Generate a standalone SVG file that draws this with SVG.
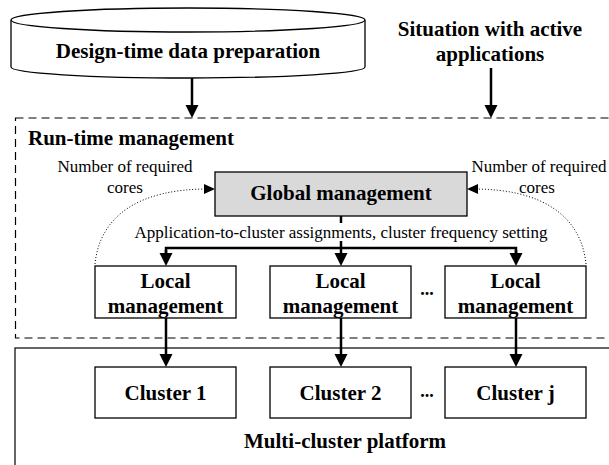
<svg xmlns="http://www.w3.org/2000/svg" width="609" height="465" viewBox="0 0 609 465">
<defs>
<style>
.b{font-family:"Liberation Serif","Times New Roman",serif;font-weight:bold;font-size:21px;fill:#000;text-anchor:middle}
.r{font-family:"Liberation Serif","Times New Roman",serif;font-size:17px;fill:#000;text-anchor:middle}
.box{fill:#fff;stroke:#000;stroke-width:1.3}
.arr{fill:none;stroke:#000;stroke-width:2.5}
.dot{fill:none;stroke:#000;stroke-width:1;stroke-dasharray:1 2}
</style>
<marker id="ah" markerUnits="userSpaceOnUse" markerWidth="14" markerHeight="14" viewBox="0 0 14 14" refX="8" refY="7" orient="auto">
<path d="M0,0.5 L13,7 L0,13.5 z" fill="#000"/>
</marker>
<marker id="ahs" markerUnits="userSpaceOnUse" markerWidth="12" markerHeight="12" viewBox="0 0 12 12" refX="4" refY="6" orient="auto">
<path d="M0,1 L11,6 L0,11 z" fill="#000"/>
</marker>
</defs>
<rect width="609" height="465" fill="#fff"/>

<g id="runtime-area">
<rect x="15.5" y="118" width="620" height="220" fill="none" stroke="#000" stroke-width="1.2" stroke-dasharray="8 5"/>
<text class="b" x="28" y="145" style="text-anchor:start">Run-time management</text>
</g>

<g id="platform-area">
<rect x="15" y="348" width="620" height="140" fill="none" stroke="#000" stroke-width="1.2"/>
<text class="b" x="345" y="448">Multi-cluster platform</text>
</g>

<g id="design-time">
<path d="M11,20 L11,67 A177,11 0 0 0 365,67 L365,20" class="box"/>
<ellipse cx="188" cy="20" rx="177" ry="12" class="box"/>
<text class="b" x="188" y="58">Design-time data preparation</text>
</g>

<g id="situation">
<text class="b" x="490" y="36">Situation with active</text>
<text class="b" x="490" y="61">applications</text>
</g>

<g id="global">
<rect x="215" y="172" width="252" height="44" fill="#d9d9d9" stroke="#000" stroke-width="1.3"/>
<text class="b" x="341" y="200">Global management</text>
</g>

<g id="labels">
<text class="r" x="125" y="172">Number of required</text>
<text class="r" x="125" y="193">cores</text>
<text class="r" x="539" y="172">Number of required</text>
<text class="r" x="537" y="193">cores</text>
<text class="r" x="341" y="238">Application-to-cluster assignments, cluster frequency setting</text>
</g>

<g id="local1">
<rect x="95" y="266" width="141" height="52" class="box"/>
<text class="b" x="165.5" y="288">Local</text>
<text class="b" x="165.5" y="313">management</text>
</g>
<g id="local2">
<rect x="270" y="266" width="141" height="52" class="box"/>
<text class="b" x="340.5" y="288">Local</text>
<text class="b" x="340.5" y="313">management</text>
</g>
<g id="local3">
<rect x="445" y="266" width="141" height="52" class="box"/>
<text class="b" x="515.5" y="288">Local</text>
<text class="b" x="515.5" y="313">management</text>
</g>
<text class="b" x="427" y="295" style="font-size:18px">...</text>

<g id="cluster1">
<rect x="95" y="367" width="141" height="51" class="box"/>
<text class="b" x="165.5" y="400">Cluster 1</text>
</g>
<g id="cluster2">
<rect x="270" y="367" width="141" height="51" class="box"/>
<text class="b" x="340.5" y="400">Cluster 2</text>
</g>
<g id="clusterj">
<rect x="445" y="367" width="141" height="51" class="box"/>
<text class="b" x="515.5" y="400">Cluster j</text>
</g>
<text class="b" x="427" y="397" style="font-size:18px">...</text>

<g id="connectors">
<path class="arr" d="M192,78 L192,113" marker-end="url(#ah)"/>
<path class="arr" d="M491,68 L491,113" marker-end="url(#ah)"/>
<path class="arr" d="M341,216 L341,223"/>
<path class="arr" d="M341,241 L341,248"/>
<path class="arr" d="M166,261 L166,248 L516,248 L516,261" />
<path class="arr" d="M166,250 L166,261" marker-end="url(#ah)"/>
<path class="arr" d="M341,248 L341,261" marker-end="url(#ah)"/>
<path class="arr" d="M516,250 L516,261" marker-end="url(#ah)"/>
<path class="arr" d="M166,318 L166,362" marker-end="url(#ah)"/>
<path class="arr" d="M341,318 L341,362" marker-end="url(#ah)"/>
<path class="arr" d="M516,318 L516,362" marker-end="url(#ah)"/>
<path class="dot" d="M95,264 C100,215 140,189 208,189" marker-end="url(#ahs)"/>
<path class="dot" d="M586,264 C581,215 541,189 474,189" marker-end="url(#ahs)"/>
</g>
</svg>
